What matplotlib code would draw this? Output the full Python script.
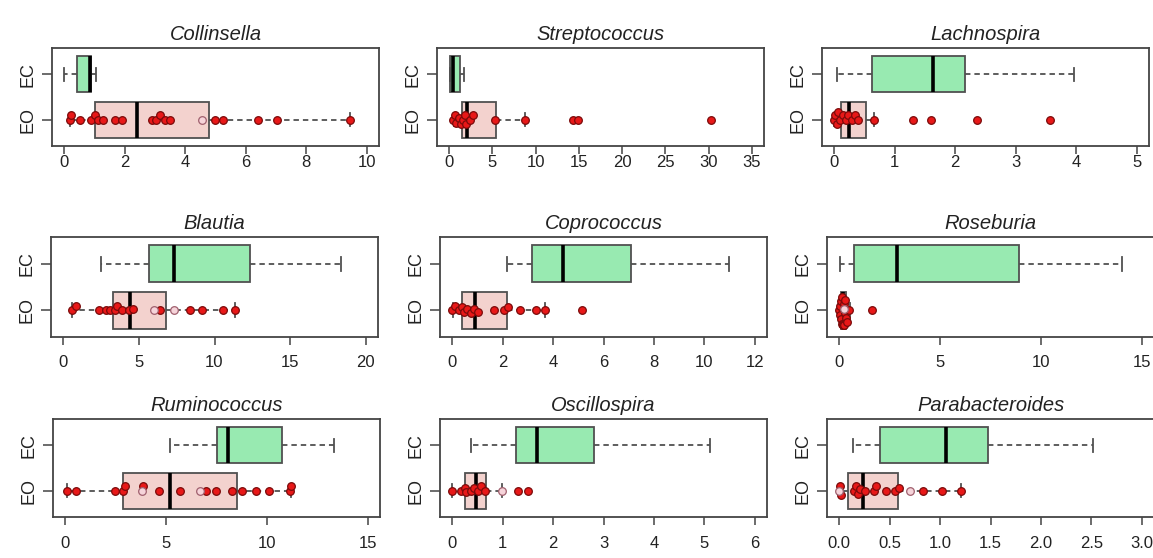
import matplotlib

matplotlib.use("Agg")
import matplotlib.pyplot as plt
import numpy as np

plt.rcParams["font.family"] = ["Liberation Sans", "DejaVu Sans"]

GENERA = ["Collinsella", "Streptococcus", "Lachnospira",
          "Blautia", "Coprococcus", "Roseburia",
          "Ruminococcus", "Oscillospira", "Parabacteroides"]
XMAX = [10, 35, 5, 20, 12, 15, 15, 6, 3]
XSTEP = [2, 5, 1, 5, 2, 5, 5, 1, 0.5]

# (whisker low, q1, median, q3, whisker high)
EC_STATS = [(0.0, 0.41, 0.84, 0.88, 1.05),
            (0.1, 0.1, 0.4, 1.23, 1.7),
            (0.055, 0.62, 1.64, 2.16, 3.96),
            (2.47, 5.67, 7.32, 12.35, 18.35),
            (2.16, 3.18, 4.39, 7.08, 10.96),
            (0.05, 0.74, 2.85, 8.92, 14.01),
            (5.19, 7.51, 8.09, 10.74, 13.34),
            (0.37, 1.26, 1.68, 2.82, 5.11),
            (0.14, 0.41, 1.06, 1.48, 2.52)]
EO_STATS = [(0.21, 1.01, 2.40, 4.80, 9.43),
            (0.58, 1.46, 2.04, 5.47, 8.74),
            (0.0, 0.12, 0.24, 0.53, 0.66),
            (0.6, 3.31, 4.39, 6.81, 11.36),
            (0.04, 0.40, 0.89, 2.18, 3.70),
            (0.0, 0.07, 0.17, 0.33, 0.55),
            (0.08, 2.87, 5.19, 8.50, 11.19),
            (0.0, 0.26, 0.48, 0.67, 0.99),
            (0.0, 0.09, 0.24, 0.58, 1.21)]

# individual EO samples (red) and the few pale ones
EO_POINTS = [
    [0.21, 0.23, 0.52, 0.90, 1.01, 1.12, 1.29, 1.68, 1.90, 2.89, 3.05, 3.16,
     3.33, 3.49, 4.98, 5.24, 6.42, 7.02, 9.43],
    [0.46, 0.65, 0.85, 1.12, 1.35, 1.62, 1.81, 2.0, 2.39, 2.77, 5.28, 8.74,
     14.32, 14.9, 30.3],
    [0.0, 0.01, 0.04, 0.07, 0.10, 0.15, 0.19, 0.23, 0.29, 0.34, 0.40, 0.66,
     1.31, 1.60, 2.36, 3.56],
    [0.6, 0.82, 2.36, 2.8, 3.13, 3.46, 3.57, 3.9, 4.34, 4.63, 6.39, 8.38,
     9.2, 10.58, 11.36],
    [0.0, 0.13, 0.26, 0.40, 0.46, 0.6, 0.73, 0.86, 1.02, 1.65, 2.05, 2.21,
     2.69, 3.31, 3.70, 5.16],
    [0.0, 0.03, 0.05, 0.08, 0.10, 0.13, 0.15, 0.18, 0.20, 0.23, 0.26, 0.28,
     0.31, 0.35, 0.41, 0.49, 1.65],
    [0.08, 0.53, 2.49, 2.85, 2.95, 3.85, 4.67, 5.67, 6.96, 7.49, 8.29, 8.75,
     9.45, 10.08, 11.14, 11.19],
    [0.0, 0.17, 0.25, 0.28, 0.37, 0.44, 0.52, 0.57, 0.65, 1.30, 1.51],
    [0.01, 0.02, 0.15, 0.17, 0.19, 0.21, 0.26, 0.35, 0.37, 0.46, 0.55, 0.59,
     0.83, 1.02, 1.21],
]
EO_PALE = [[4.57], [], [], [6.0, 7.32], [], [0.22], [3.81, 6.66], [0.98],
           [0.0, 0.70]]

GREEN, PINK = "#98EAB1", "#F3D2CE"
EDGE = "#505050"


def swarm(ax, xs, ypos, d=6.0):
    """Small deterministic beeswarm: vertical offsets in data units."""
    px = ax.transData.transform(np.column_stack([xs, np.full(len(xs), ypos)]))
    py_unit = ax.transData.transform((0, ypos + 1))[1] - ax.transData.transform((0, ypos))[1]
    offs = np.zeros(len(xs))
    placed = []
    cands = [0] + [s * k for k in np.arange(1.5, 16, 1.5) for s in (1, -1)]
    for i in np.argsort(xs):
        for c in cands:
            if all((px[i, 0] - x0) ** 2 + (c - y0) ** 2 >= (0.75 * d) ** 2
                   for x0, y0 in placed):
                break
        placed.append((px[i, 0], c))
        offs[i] = c / py_unit
    return offs


fig = plt.figure(figsize=(11.53, 5.58), dpi=100)
W, H = 1153, 558
lefts = [[52, 437, 822], [51, 440, 827], [53, 440, 827]]
tops = [48, 237, 419]
heights = [98, 100, 98]
label_pad = [0.5, 7, 7.5]

for k, name in enumerate(GENERA):
    r, c = divmod(k, 3)
    ax = fig.add_axes([lefts[r][c] / W, 1 - (tops[r] + heights[r]) / H,
                       327 / W, heights[r] / H])
    span = XMAX[k]
    ax.set_xlim(-0.04 * span, 1.04 * span)
    ax.set_ylim(0.42, 2.58)

    stats = []
    for s in (EO_STATS[k], EC_STATS[k]):
        stats.append(dict(whislo=s[0], q1=s[1], med=s[2], q3=s[3],
                          whishi=s[4], fliers=[]))
    bp = ax.bxp(stats, positions=[1, 2], widths=0.8, orientation="horizontal",
                patch_artist=True, showfliers=False, capwidths=0.3,
                boxprops=dict(edgecolor=EDGE, linewidth=1.3),
                whiskerprops=dict(color=EDGE, linewidth=1.3, linestyle=(0, (3, 2.2))),
                capprops=dict(color=EDGE, linewidth=1.3),
                medianprops=dict(color="black", linewidth=2.6))
    bp["boxes"][0].set_facecolor(PINK)
    bp["boxes"][1].set_facecolor(GREEN)

    pts = np.array(EO_POINTS[k] + EO_PALE[k], dtype=float)
    offs = swarm(ax, pts, 1.0)
    n = len(EO_POINTS[k])
    ax.plot(pts[:n], 1.0 + offs[:n], "o", ms=5.5, mfc="#E81818", mec="#7A0A0A",
            mew=0.9, zorder=4, clip_on=False)
    if len(EO_PALE[k]):
        ax.plot(pts[n:], 1.0 + offs[n:], "o", ms=5.5, mfc="#F6D4DA", mec="#A0606E",
                mew=0.9, zorder=4, clip_on=False)

    ticks = np.arange(0, span + 1e-9, XSTEP[k])
    ax.set_xticks(ticks)
    if XSTEP[k] < 1:
        ax.set_xticklabels([f"{t:.1f}" for t in ticks])
    else:
        ax.set_xticklabels([f"{t:g}" for t in ticks])
    ax.set_yticks([1, 2])
    ax.set_yticklabels(["EO", "EC"], rotation=90, va="center")
    ax.tick_params(axis="x", length=6, width=1.1, color="#444444",
                   labelsize=12, labelcolor="#222222", pad=label_pad[r])
    ax.tick_params(axis="y", length=7, width=1.1, color="#444444",
                   labelsize=13, labelcolor="#222222", pad=4)
    for sp in ax.spines.values():
        sp.set_color("#444444")
        sp.set_linewidth(1.3)
    ax.set_title(name, fontsize=14.5, style="italic", color="#222222", pad=6)

fig.savefig("out.png", dpi=100)
